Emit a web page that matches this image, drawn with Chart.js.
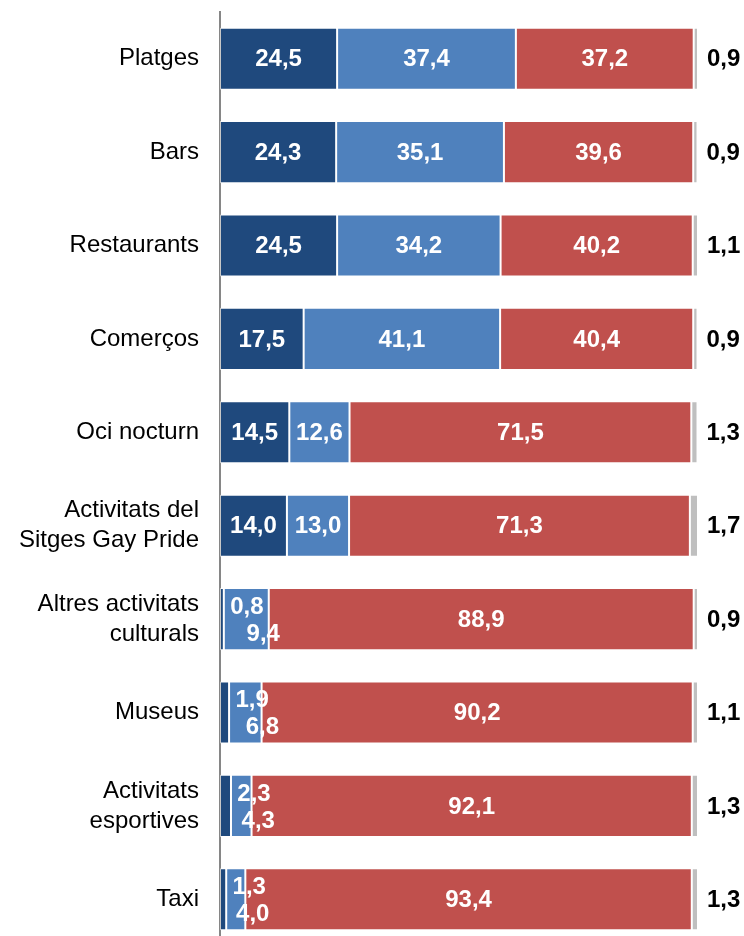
<!DOCTYPE html>
<html>
<head>
<meta charset="utf-8">
<script src="https://cdn.jsdelivr.net/npm/chart.js@4"></script>
<style>
  html, body { margin: 0; padding: 0; background: #fff; overflow: hidden; }
</style>
</head>
<body>
<canvas id="chart" width="744" height="946"></canvas>
<script>
// Data (percentages)
const categories = [
  'Platges', 'Bars', 'Restaurants', 'Comerços', 'Oci nocturn',
  ['Activitats del', 'Sitges Gay Pride'],
  ['Altres activitats', 'culturals'],
  'Museus',
  ['Activitats', 'esportives'],
  'Taxi'
];
const serieA = [24.5, 24.3, 24.5, 17.5, 14.5, 14.0, 0.8, 1.9, 2.3, 1.3];
const serieB = [37.4, 35.1, 34.2, 41.1, 12.6, 13.0, 9.4, 6.8, 4.3, 4.0];
const serieC = [37.2, 39.6, 40.2, 40.4, 71.5, 71.3, 88.9, 90.2, 92.1, 93.4];
const serieD = [0.9, 0.9, 1.1, 0.9, 1.3, 1.7, 0.9, 1.1, 1.3, 1.3];

const colors = ['#1F497D', '#4F81BD', '#C0504D', '#BFBFBF'];
const fontFamily = '"Liberation Sans", Arial, sans-serif';

const fmt = v => v.toFixed(1).replace('.', ',');

// Draw the value labels (white inside, black for the last series outside)
const valueLabels = {
  id: 'valueLabels',
  afterDatasetsDraw(chart) {
    const ctx = chart.ctx;
    ctx.save();
    ctx.font = 'bold 24px ' + fontFamily;
    ctx.textBaseline = 'middle';
    chart.data.datasets.forEach((ds, di) => {
      const meta = chart.getDatasetMeta(di);
      meta.data.forEach((bar, i) => {
        const v = ds.data[i];
        const {x, base, y} = bar.getProps(['x', 'base', 'y'], true);
        const small = serieA[i] < 5; // rows where the blue segments are too narrow
        if (di === 3) {
          ctx.fillStyle = '#000';
          ctx.textAlign = 'left';
          ctx.fillText(fmt(v), x + 9, y + 1);
          return;
        }
        ctx.fillStyle = '#fff';
        ctx.textAlign = 'center';
        if (small && di === 0) {
          ctx.fillText(fmt(v), x + 23, y - 12);
        } else if (small && di === 1) {
          ctx.fillText(fmt(v), (x + base) / 2 + 17, y + 15);
        } else {
          ctx.fillText(fmt(v), (x + base) / 2, y + 1);
        }
      });
    });
    ctx.restore();
  }
};

const ctx = document.getElementById('chart').getContext('2d');
new Chart(ctx, {
  type: 'bar',
  data: {
    labels: categories,
    datasets: [serieA, serieB, serieC, serieD].map((d, k) => ({
      data: d,
      backgroundColor: colors[k],
      borderColor: 'rgba(255,255,255,0.55)',
      borderWidth: 1,
      borderSkipped: false,
      barPercentage: 0.665,
      categoryPercentage: 1
    }))
  },
  options: {
    indexAxis: 'y',
    responsive: false,
    animation: false,
    layout: { padding: { top: 12, right: 46, bottom: 0, left: 0 } },
    plugins: {
      legend: { display: false },
      tooltip: { enabled: false }
    },
    scales: {
      x: {
        stacked: true,
        min: 0,
        max: 100,
        display: false
      },
      y: {
        stacked: true,
        grid: { display: false, drawTicks: false },
        border: { display: true, color: '#868686', width: 2 },
        ticks: {
          color: '#000',
          padding: 21,
          font: { family: fontFamily, size: 24, lineHeight: 1.25 }
        },
        afterFit(scale) {
          scale.width = 220;
          scale.paddingTop = 0;
          scale.paddingBottom = 0;
        }
      }
    }
  },
  plugins: [valueLabels]
});
</script>
</body>
</html>
